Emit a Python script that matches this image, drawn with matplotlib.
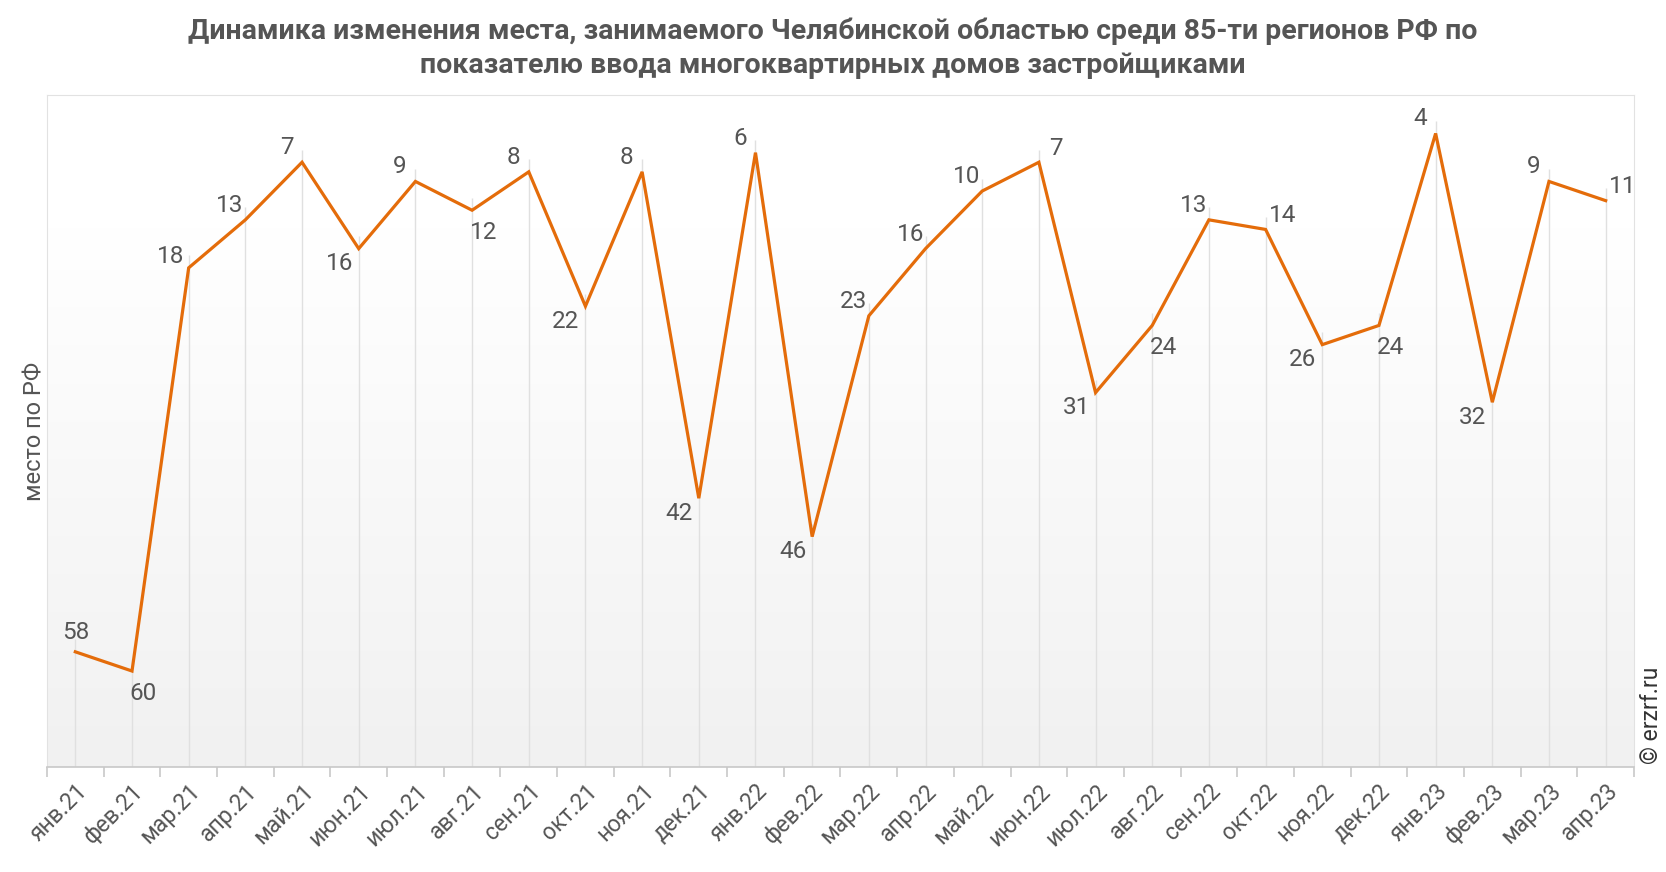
import numpy as np
import matplotlib.pyplot as plt
from matplotlib.colors import LinearSegmentedColormap

plt.rcParams['font.family'] = ['Roboto', 'DejaVu Sans']

months = ['янв.21', 'фев.21', 'мар.21', 'апр.21', 'май.21', 'июн.21', 'июл.21',
          'авг.21', 'сен.21', 'окт.21', 'ноя.21', 'дек.21', 'янв.22', 'фев.22',
          'мар.22', 'апр.22', 'май.22', 'июн.22', 'июл.22', 'авг.22', 'сен.22',
          'окт.22', 'ноя.22', 'дек.22', 'янв.23', 'фев.23', 'мар.23', 'апр.23']
place = [58, 60, 18, 13, 7, 16, 9, 12, 8, 22, 8, 42, 6, 46,
         23, 16, 10, 7, 31, 24, 13, 14, 26, 24, 4, 32, 9, 11]
# where each value label sits relative to its point
label_side = ['u', 'dr', 'l', 'ul', 'ul', 'dl', 'ul', 'dr', 'ul', 'dl', 'ul', 'dl', 'ul', 'dl',
              'ul', 'ul', 'ul', 'ur', 'dl', 'dr', 'ul', 'ur', 'dl', 'dr', 'ul', 'dl', 'ul', 'ur']

offsets = {'ul': (-11, 10.5), 'dl': (-14, -11), 'dr': (8, -16), 'ur': (12, 10),
           'l': (-13, 8), 'u': (0, 14)}

text_col = '#555555'
line_col = '#e46c0a'

fig = plt.figure(figsize=(16.66, 8.72), dpi=100)
ax = fig.add_axes([0.0282, 0.1204, 0.9526, 0.7706])

x = np.arange(len(months))
ymax = 70

# background gradient, white at top to light grey at bottom
grad = np.linspace(0, 1, 256).reshape(-1, 1)
grad = np.clip((grad - 0.2) / 0.8, 0, 1)
cmap = LinearSegmentedColormap.from_list('bg', ['#ffffff', '#f1f1f1'])
ax.imshow(grad, aspect='auto', cmap=cmap, extent=(-0.5, len(months) - 0.5, ymax, 0),
          zorder=0, interpolation='bicubic')

ax.vlines(x, np.array(place) - 1.3, ymax, color='#e0e0e0', lw=1, zorder=1)
ax.plot(x, place, color=line_col, lw=2.3, zorder=3, solid_joinstyle='miter')

for xi, v, s in zip(x, place, label_side):
    dx, dy = offsets[s]
    ax.annotate(str(v), (xi, v), xytext=(dx, dy), textcoords='offset points',
                ha='center', va='center', fontsize=17.5, color=text_col, zorder=4)

ax.set_xlim(-0.5, len(months) - 0.5)
ax.set_ylim(ymax, 0)
ax.set_yticks([])
ax.set_xticks(x)
ax.set_xticklabels(months, rotation=45, ha='right', rotation_mode='anchor',
                   fontsize=16.5, color=text_col)
ax.tick_params(axis='x', length=0, pad=9)
ax.set_xticks(np.arange(-0.5, len(months), 1), minor=True)
ax.tick_params(axis='x', which='minor', length=7, color='#c8c8c8', width=1.2)

for side in ['top', 'right', 'left']:
    ax.spines[side].set_color('#e2e2e2')
ax.spines['bottom'].set_color('#c8c8c8')
ax.spines['bottom'].set_linewidth(1.2)

ax.set_ylabel('место по РФ', fontsize=17, color=text_col, labelpad=0)

fig.suptitle('Динамика изменения места, занимаемого Челябинской областью среди 85-ти регионов РФ по\n'
             'показателю ввода многоквартирных домов застройщиками',
             fontsize=20.5, fontweight='bold', color=text_col, y=0.98, linespacing=1.35)

fig.text(0.991, 0.18, '© erzrf.ru', rotation=90, fontsize=16.5, color='#333333',
         ha='center', va='center')

fig.savefig('out.png', dpi=100)
